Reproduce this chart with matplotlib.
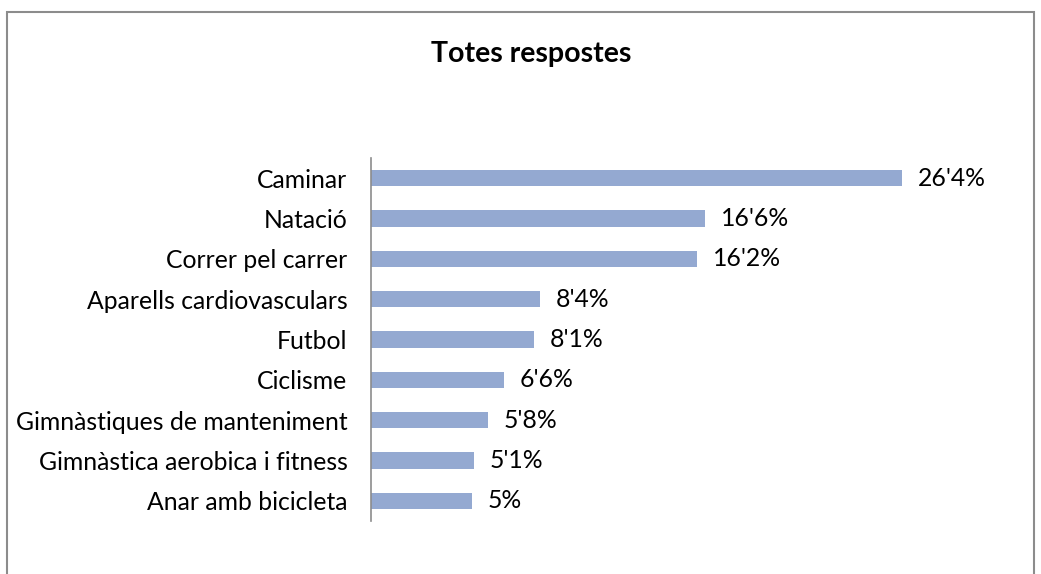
import matplotlib
matplotlib.use("Agg")
import matplotlib.pyplot as plt
from matplotlib.patches import Rectangle

categories = ["Caminar", "Natació", "Correr pel carrer", "Aparells cardiovasculars",
              "Futbol", "Ciclisme", "Gimnàstiques de manteniment",
              "Gimnàstica aerobica i fitness", "Anar amb bicicleta"]
values = [26.4, 16.6, 16.2, 8.4, 8.1, 6.6, 5.8, 5.1, 5.0]
value_labels = ["26'4%", "16'6%", "16'2%", "8'4%", "8'1%", "6'6%", "5'8%", "5'1%", "5%"]
title = "Totes respostes"

plt.rcParams['font.family'] = ['Lato', 'DejaVu Sans']

W, H = 1041, 574
fig = plt.figure(figsize=(W / 100, H / 100), dpi=100)
fig.patches.append(Rectangle((7 / W, -0.1), (1034 - 7) / W, (H - 12) / H + 0.1,
                             transform=fig.transFigure, fill=False,
                             edgecolor="#8c8c8c", linewidth=1.5))

ax = fig.add_axes([371 / W, 53 / H, 603 / W, 363 / H])
n = len(categories)
ypos = list(range(n))
ax.barh(ypos, values, height=0.4, color="#94A9D1", edgecolor="none")
ax.set_ylim(n - 0.5, -0.5)
ax.set_xlim(0, 30)
ax.set_yticks(ypos)
ax.set_yticklabels(categories, fontsize=17.8)
ax.tick_params(axis="y", length=0, pad=17)
ax.set_xticks([])
for s in ["top", "right", "bottom"]:
    ax.spines[s].set_visible(False)
ax.spines["left"].set_color("#8c8c8c")
ax.spines["left"].set_linewidth(1.2)

for y, v, lab in zip(ypos, values, value_labels):
    ax.annotate(lab, (v, y), xytext=(11.5, 0), textcoords="offset points",
                va="center", ha="left", fontsize=17.8)

fig.text(531 / W, 1 - 54 / H, title, ha="center", va="center",
         fontsize=20.5, fontweight="bold")

fig.savefig("out.png", dpi=100)
